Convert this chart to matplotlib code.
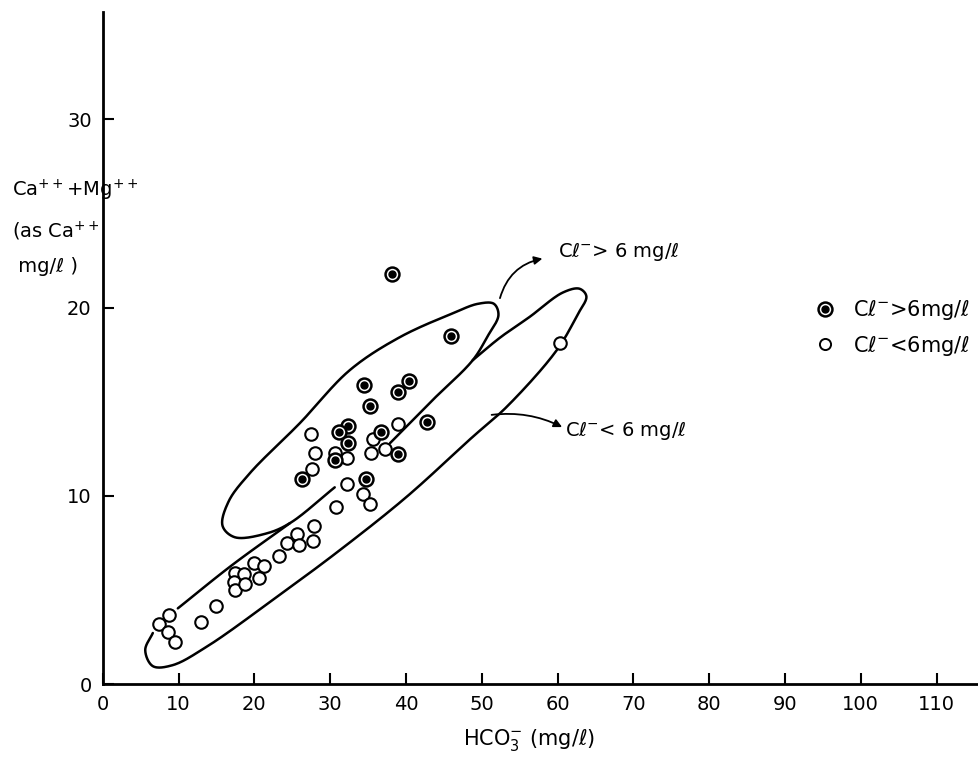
import numpy as np
import matplotlib.pyplot as plt
from matplotlib.lines import Line2D

# samples with Cl- > 6 mg/l (ringed dot)
hi_x = [38.2, 46.0, 34.4, 40.4, 38.9, 35.3, 42.8, 32.3, 31.1, 36.7, 32.3, 30.6, 39.0, 26.3, 34.7]
hi_y = [21.8, 18.5, 15.9, 16.1, 15.5, 14.75, 13.9, 13.7, 13.4, 13.4, 12.8, 11.9, 12.2, 10.9, 10.9]

# samples with Cl- < 6 mg/l (open circle)
lo_x = [8.8, 7.4, 8.6, 9.5, 13.0, 14.9, 17.4, 17.3, 17.5, 18.6, 18.7, 19.9, 20.6, 21.3,
        23.3, 24.3, 25.6, 25.9, 27.7, 27.9, 30.8,
        27.5, 28.0, 27.6, 39.0, 35.7, 30.6, 32.2, 35.4, 37.2, 32.2, 34.3, 35.2, 60.3]
lo_y = [3.66, 3.19, 2.74, 2.25, 3.28, 4.13, 5.91, 5.40, 4.99, 5.84, 5.31, 6.44, 5.61, 6.27,
        6.81, 7.50, 7.97, 7.40, 7.61, 8.39, 9.38,
        13.3, 12.25, 11.4, 13.8, 13.0, 12.3, 12.0, 12.3, 12.5, 10.6, 10.1, 9.56, 18.1]

# hand drawn envelopes (data coords), open strokes as in the original
env_hi = [(37.9, 12.8), (43.5, 15.08), (48.8, 17.2), (50.7, 18.43), (52.2, 19.6),
          (51.6, 20.2), (49.5, 20.2), (46.2, 19.7), (39.2, 18.43), (32.6, 16.68),
          (26.0, 13.86), (19.4, 11.2), (16.6, 9.7), (15.8, 8.4), (17.4, 7.8),
          (21.6, 8.0), (24.7, 8.55), (30.6, 10.45)]
env_lo = [(6.6, 2.71), (5.6, 1.8), (6.6, 0.95), (9.2, 1.0), (13.7, 1.98),
          (22.4, 4.46), (31.3, 7.12), (40.1, 9.95), (48.8, 13.13), (53.3, 14.73),
          (59.9, 17.74), (62.6, 19.6), (63.8, 20.6), (62.9, 21.0), (60.7, 20.8),
          (56.3, 19.5), (52.4, 18.4), (48.8, 17.2)]
env_lo_tail = [(24.7, 8.55), (17.0, 6.3), (9.9, 4.02)]

xticks = list(range(0, 120, 10))
yticks = [0, 10, 20, 30]

SX, SY = 7.58, 18.83  # px per data unit, so the curves bend evenly on screen


def smooth(pts, n=24):
    # centripetal catmull-rom through the points
    p = np.array(pts, float) * [SX, SY]
    p = np.vstack([2 * p[0] - p[1], p, 2 * p[-1] - p[-2]])
    out = []
    for i in range(1, len(p) - 2):
        p0, p1, p2, p3 = p[i - 1], p[i], p[i + 1], p[i + 2]
        t0 = 0.0
        t1 = t0 + np.linalg.norm(p1 - p0) ** 0.5
        t2 = t1 + np.linalg.norm(p2 - p1) ** 0.5
        t3 = t2 + np.linalg.norm(p3 - p2) ** 0.5
        t = np.linspace(t1, t2, n, endpoint=False)[:, None]
        a1 = (t1 - t) / (t1 - t0) * p0 + (t - t0) / (t1 - t0) * p1
        a2 = (t2 - t) / (t2 - t1) * p1 + (t - t1) / (t2 - t1) * p2
        a3 = (t3 - t) / (t3 - t2) * p2 + (t - t2) / (t3 - t2) * p3
        b1 = (t2 - t) / (t2 - t0) * a1 + (t - t0) / (t2 - t0) * a2
        b2 = (t3 - t) / (t3 - t1) * a2 + (t - t1) / (t3 - t1) * a3
        out.append((t2 - t) / (t2 - t1) * b1 + (t - t1) / (t2 - t1) * b2)
    out.append(p[-2][None, :])
    return np.vstack(out) / [SX, SY]


plt.rcParams['font.family'] = 'DejaVu Sans'
fig = plt.figure(figsize=(9.79, 7.58), dpi=100)
ax = fig.add_axes([0.105, 0.0976, 0.895, 0.8865])

lw = 1.8
for env in (env_hi, env_lo, env_lo_tail):
    c = smooth(env)
    ax.plot(c[:, 0], c[:, 1], color='black', lw=lw, solid_capstyle='round')

ax.plot(lo_x, lo_y, 'o', ms=9, mfc='white', mec='black', mew=1.5, ls='none')
ax.plot(hi_x, hi_y, 'o', ms=10, mfc='white', mec='black', mew=1.8, ls='none')
ax.plot(hi_x, hi_y, 'o', ms=5, mfc='black', mec='black', ls='none')

arrow = dict(arrowstyle='-|>', color='black', lw=1.3, shrinkA=0, shrinkB=0,
             mutation_scale=12)
ax.annotate('', xy=(58.0, 22.6), xytext=(52.4, 20.5),
            arrowprops=dict(arrow, connectionstyle='arc3,rad=-0.3'))
ax.text(60.0, 23.0, 'Cℓ$^{-}$> 6 mg/ℓ', fontsize=14, va='center', ha='left')
ax.annotate('', xy=(60.6, 13.65), xytext=(51.3, 14.3),
            arrowprops=dict(arrow, connectionstyle='arc3,rad=-0.15'))
ax.text(61.0, 13.45, 'Cℓ$^{-}$< 6 mg/ℓ', fontsize=14, va='center', ha='left')

h_hi = (Line2D([], [], marker='o', ms=10, mfc='white', mec='black', mew=1.8, ls='none'),
        Line2D([], [], marker='o', ms=5, mfc='black', mec='black', ls='none'))
h_lo = Line2D([], [], marker='o', ms=8, mfc='white', mec='black', mew=1.4, ls='none')
ax.legend([h_hi, h_lo], ['Cℓ$^{-}$>6mg/ℓ', 'Cℓ$^{-}$<6mg/ℓ'], loc='center left',
          bbox_to_anchor=(0.785, 0.53), frameon=False, fontsize=15,
          handletextpad=0.6, labelspacing=0.55, handlelength=1.5)

ax.set_xlim(0, 115.6)
ax.set_ylim(0, 35.7)
ax.set_xticks(xticks)
ax.set_yticks(yticks)
ax.tick_params(direction='in', length=8, width=1.5, labelsize=14, pad=8)
for s in ['top', 'right']:
    ax.spines[s].set_visible(False)
for s in ['left', 'bottom']:
    ax.spines[s].set_linewidth(2)

fig.text(0.540, 0.017, 'HCO$_3^{-}$ (mg/ℓ)', fontsize=15, ha='center', va='baseline')
fig.text(0.012, 0.765, 'Ca$^{++}$+Mg$^{++}$\n(as Ca$^{++}$\n mg/ℓ )', fontsize=14,
         ha='left', va='top', linespacing=1.9)

fig.savefig('out.png', dpi=100)
